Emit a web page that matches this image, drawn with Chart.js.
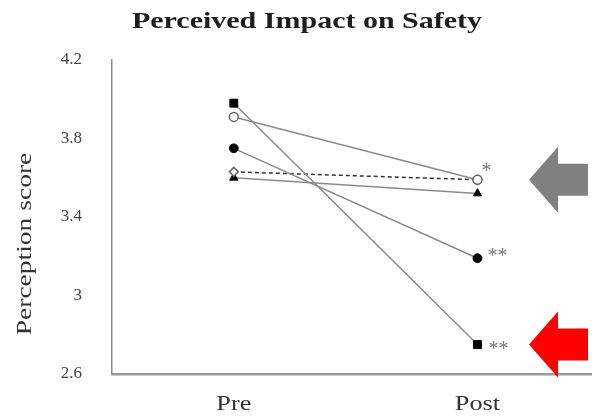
<!DOCTYPE html>
<html>
<head>
<meta charset="utf-8">
<script src="https://cdn.jsdelivr.net/npm/chart.js@4/dist/chart.umd.min.js"></script>
<style>
  html, body { margin: 0; padding: 0; background: #fff; overflow: hidden; }
</style>
</head>
<body>
<canvas id="chart" width="592" height="417"></canvas>
<script>
// Perception scores before and after, one series per item group
const categories = ['Pre', 'Post'];
const squareScores = [3.98, 2.75];
const openCircleScores = [3.91, 3.59];
const filledCircleScores = [3.75, 3.19];
const diamondScores = [3.63, 3.59];
const triangleScores = [3.60, 3.52];
// significance marks next to the Post value of each series
const significance = ['**', '*', '**', '', ''];
const yTicks = [2.6, 3, 3.4, 3.8, 4.2];

const SERIF = '"Liberation Serif", "Times New Roman", serif';
const toPoints = arr => arr.map((v, i) => ({ x: i, y: v }));

const lineGray = '#8a8a8a';
const base = {
  borderColor: lineGray,
  borderWidth: 1.5,
  tension: 0,
  pointRadius: 4.5,
  pointHoverRadius: 4.5,
  pointBorderWidth: 1,
  pointBackgroundColor: '#000',
  pointBorderColor: '#000',
  fill: false,
  clip: false
};

const datasets = [
  Object.assign({}, base, { label: 'A', data: toPoints(squareScores), pointStyle: 'rect', pointRadius: 5.6 }),
  Object.assign({}, base, { label: 'B', data: toPoints(openCircleScores), pointStyle: 'circle',
    pointBackgroundColor: '#fff', pointBorderColor: '#666', pointBorderWidth: 1.5 }),
  Object.assign({}, base, { label: 'C', data: toPoints(filledCircleScores), pointStyle: 'circle', pointRadius: 4.4 }),
  Object.assign({}, base, { label: 'D', data: toPoints(diamondScores), pointStyle: 'rectRot',
    borderColor: '#333', borderDash: [4, 3], pointBackgroundColor: '#fff', pointBorderColor: '#666', pointBorderWidth: 1.5 }),
  Object.assign({}, base, { label: 'E', data: toPoints(triangleScores), pointStyle: 'triangle', pointRadius: 4.8 })
];

// Horizontally stretched serif text
function stretchedText(ctx, text, x, y, sx, rotate) {
  ctx.save();
  ctx.translate(x, y);
  if (rotate) ctx.rotate(rotate);
  ctx.scale(sx, 1);
  ctx.fillText(text, 0, 0);
  ctx.restore();
}

const decorations = {
  id: 'decorations',
  afterDraw(chart, args, opts) {
    const ctx = chart.ctx;
    const xs = chart.scales.x, ys = chart.scales.y;
    ctx.save();

    // title
    ctx.fillStyle = '#1e1e1e';
    ctx.font = 'bold 24px ' + SERIF;
    ctx.textAlign = 'center';
    ctx.textBaseline = 'alphabetic';
    stretchedText(ctx, 'Perceived Impact on Safety', 307, 28, 1.25);

    // y axis title
    ctx.fillStyle = '#333';
    ctx.font = '22px ' + SERIF;
    stretchedText(ctx, 'Perception score', 31, 244, 1.25, -Math.PI / 2);

    // category labels
    ctx.fillStyle = '#333';
    ctx.font = '21px ' + SERIF;
    categories.forEach((c, i) => {
      stretchedText(ctx, c, xs.getPixelForValue(i), 410, 1.25);
    });

    // significance marks
    ctx.fillStyle = '#777';
    ctx.font = '20px ' + SERIF;
    ctx.textAlign = 'left';
    const last = categories.length - 1;
    significance.forEach((s, k) => {
      if (!s) return;
      const off = opts.noteOffsets[k];
      const px = xs.getPixelForValue(last);
      const py = ys.getPixelForValue(chart.data.datasets[k].data[last].y);
      ctx.fillText(s, px + off.dx, py + off.dy + 11);
    });

    // pointer arrows at the Post values
    opts.arrows.forEach(a => {
      const cy = ys.getPixelForValue(chart.data.datasets[a.series].data[last].y);
      const tip = chart.chartArea.right - 63;
      const neck = tip + 29, end = tip + 59;
      ctx.fillStyle = a.color;
      ctx.beginPath();
      ctx.moveTo(tip, cy);
      ctx.lineTo(neck, cy - 33);
      ctx.lineTo(neck, cy - 16);
      ctx.lineTo(end, cy - 16);
      ctx.lineTo(end, cy + 16);
      ctx.lineTo(neck, cy + 16);
      ctx.lineTo(neck, cy + 33);
      ctx.closePath();
      ctx.fill();
    });
    ctx.restore();
  }
};

new Chart(document.getElementById('chart'), {
  type: 'line',
  data: { datasets },
  plugins: [decorations],
  options: {
    responsive: false,
    animation: false,
    events: [],
    layout: { autoPadding: false, padding: { top: 60, right: 0, left: 0, bottom: 0 } },
    plugins: {
      legend: { display: false },
      title: { display: false },
      tooltip: { enabled: false },
      decorations: {
        noteOffsets: [{ dx: 11, dy: -1 }, { dx: 4, dy: -14 }, { dx: 10, dy: -7 }],
        arrows: [{ series: 1, color: '#808080' }, { series: 0, color: '#ff0000' }]
      }
    },
    scales: {
      x: {
        type: 'linear',
        min: -0.5,
        max: 1.47,
        grid: { display: false },
        border: { display: true, color: '#9a9a9a', width: 2.5 },
        ticks: { display: false },
        afterBuildTicks: s => { s.ticks = categories.map((c, i) => ({ value: i })); },
        afterFit: s => { s.height = 43; }
      },
      y: {
        min: 2.6,
        max: 4.2,
        grid: { display: false },
        border: { display: true, color: '#8c8c8c', width: 1.5 },
        afterBuildTicks: s => { s.ticks = yTicks.map(v => ({ value: v })); },
        ticks: {
          color: '#444',
          padding: 22,
          font: { family: SERIF, size: 17 },
          callback: v => String(v)
        },
        afterFit: s => { s.width = 112; }
      }
    }
  }
});
</script>
</body>
</html>
